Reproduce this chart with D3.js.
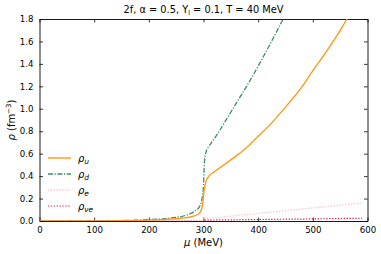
<!DOCTYPE html>
<html>
<head>
<meta charset="utf-8">
<script src="https://cdn.jsdelivr.net/npm/d3@7"></script>
<style>
  body { margin: 0; background: #fff; }
  svg text { font-family: "DejaVu Sans", sans-serif; fill: #000; }
</style>
</head>
<body>
<div id="chart"></div>
<script>
// chemical potential (MeV)
const mu = [0, 50, 100, 150, 200, 230, 250, 260, 270, 280, 285, 290, 293, 296, 298,
  300, 301, 302, 305, 310, 320, 330, 340, 360, 380, 400, 420, 450, 480, 500, 520, 540, 560, 580, 590];
// number densities (fm^-3)
const rhoU = [0, 0, 0.001, 0.003, 0.008, 0.014, 0.02, 0.025, 0.031, 0.04, 0.047, 0.06, 0.072, 0.1, 0.14,
  0.22, 0.27, 0.3, 0.36, 0.40, 0.44, 0.475, 0.51, 0.58, 0.66, 0.755, 0.85, 1.015, 1.195, 1.34, 1.476, 1.62, 1.78, 1.94, 2.02];
const rhoD = [0, 0, 0.001, 0.004, 0.012, 0.022, 0.033, 0.04, 0.055, 0.075, 0.09, 0.11, 0.13, 0.17, 0.22,
  0.32, 0.45, 0.54, 0.62, 0.665, 0.735, 0.81, 0.89, 1.05, 1.21, 1.38, 1.56, 1.84, 2.13, 2.33, 2.53, 2.73, 2.93, 3.13, 3.23];
const rhoE = [0, 0, 0.001, 0.001, 0.002, 0.002, 0.003, 0.003, 0.003, 0.004, 0.004, 0.004, 0.004, 0.005, 0.005,
  0.02, 0.021, 0.021, 0.022, 0.025, 0.03, 0.034, 0.039, 0.049, 0.058, 0.068, 0.078, 0.092, 0.107, 0.117, 0.126, 0.136, 0.146, 0.155, 0.16];
const rhoNu = [0, 0, 0, 0.001, 0.001, 0.001, 0.001, 0.001, 0.001, 0.001, 0.001, 0.001, 0.001, 0.001, 0.001,
  0.008, 0.008, 0.008, 0.008, 0.008, 0.009, 0.0095, 0.01, 0.011, 0.012, 0.013, 0.014, 0.016, 0.017, 0.019, 0.02, 0.021, 0.023, 0.024, 0.025];

const xTicks = [0, 100, 200, 300, 400, 500, 600];
const yTicks = [0, 0.2, 0.4, 0.6, 0.8, 1.0, 1.2, 1.4, 1.6, 1.8];

const series = [
  { name: "u", vals: rhoU, color: "#ff9a1a", dash: null, width: 1.4 },
  { name: "d", vals: rhoD, color: "#3a8f5e", dash: "5,1.6,1.2,1.6", width: 1.3 },
  { name: "e", vals: rhoE, color: "#ffc0cb", dash: "1.3,1.6", width: 1.3 },
  { name: "νe", vals: rhoNu, color: "#d81b4a", dash: "1.3,1.6", width: 1.2 }
];

const W = 381, H = 254;
const m = { left: 39.5, right: 13.5, top: 19, bottom: 33 };

const svg = d3.select("#chart").append("svg")
  .attr("width", W)
  .attr("height", H);

const x = d3.scaleLinear().domain([0, 600]).range([m.left, W - m.right]);
const y = d3.scaleLinear().domain([0, 1.8]).range([H - m.bottom, m.top]);

svg.append("clipPath").attr("id", "clip")
  .append("rect")
  .attr("x", x(0)).attr("y", y(1.8))
  .attr("width", x(600) - x(0)).attr("height", y(0) - y(1.8));

// axes, ticks pointing inside on all four sides
const fmtY = d3.format(".1f");
svg.append("g")
  .attr("transform", `translate(0,${y(0)})`)
  .call(d3.axisBottom(x).tickValues(xTicks).tickSizeInner(-3.5).tickSizeOuter(0).tickPadding(6));
svg.append("g")
  .attr("transform", `translate(${x(0)},0)`)
  .call(d3.axisLeft(y).tickValues(yTicks).tickFormat(fmtY).tickSizeInner(-3.5).tickSizeOuter(0).tickPadding(6));
svg.append("g")
  .attr("transform", `translate(0,${y(1.8)})`)
  .call(d3.axisTop(x).tickValues(xTicks).tickSizeInner(-3.5).tickSizeOuter(0).tickFormat(""));
svg.append("g")
  .attr("transform", `translate(${x(600)},0)`)
  .call(d3.axisRight(y).tickValues(yTicks).tickSizeInner(-3.5).tickSizeOuter(0).tickFormat(""));

svg.selectAll(".domain").attr("stroke", "#000").attr("stroke-width", 0.9);
svg.selectAll(".tick line").attr("stroke", "#000").attr("stroke-width", 0.8);
svg.selectAll(".tick text").style("font-size", "8.6px").style("font-family", "DejaVu Sans");

// curves
const line = d3.line()
  .x((d, i) => x(mu[i]))
  .y(d => y(d))
  .curve(d3.curveMonotoneX);

const plot = svg.append("g").attr("clip-path", "url(#clip)");
series.slice().reverse().forEach(s => {
  plot.append("path")
    .attr("fill", "none")
    .attr("stroke", s.color)
    .attr("stroke-width", s.width)
    .style("stroke-dasharray", s.dash)
    .attr("d", line(s.vals));
});

// legend
series.forEach((s, i) => {
  const ly = 158 + i * 16;
  svg.append("line")
    .attr("x1", 48).attr("x2", 71)
    .attr("y1", ly).attr("y2", ly)
    .attr("stroke", s.color)
    .attr("stroke-width", s.width)
    .style("stroke-dasharray", s.dash);
  const t = svg.append("text")
    .attr("x", 78).attr("y", ly + 3.5)
    .style("font-size", "10px");
  t.append("tspan").style("font-style", "italic").text("ρ");
  t.append("tspan").attr("dy", 2.5).style("font-size", "7.5px").style("font-style", "italic").text(s.name);
});

// title and axis labels
const title = svg.append("text")
  .attr("x", (x(0) + x(600)) / 2).attr("y", 13)
  .attr("text-anchor", "middle")
  .style("font-size", "9.8px");
title.append("tspan").text("2f,  α = 0.5,  Y");
title.append("tspan").attr("dy", 2).style("font-size", "6.5px").text("l");
title.append("tspan").attr("dy", -2).text(" = 0.1,  T = 40 MeV");

svg.append("text")
  .attr("x", (x(0) + x(600)) / 2).attr("y", 246)
  .attr("text-anchor", "middle")
  .style("font-size", "10px")
  .html('<tspan font-style="italic">μ</tspan> (MeV)');

const yl = svg.append("text")
  .attr("transform", `translate(15,${(y(0) + y(1.8)) / 2}) rotate(-90)`)
  .attr("text-anchor", "middle")
  .style("font-size", "10px");
yl.append("tspan").style("font-style", "italic").text("ρ");
yl.append("tspan").text(" (fm");
yl.append("tspan").attr("dy", -4).style("font-size", "7px").text("−3");
yl.append("tspan").attr("dy", 4).text(")");
</script>
</body>
</html>
